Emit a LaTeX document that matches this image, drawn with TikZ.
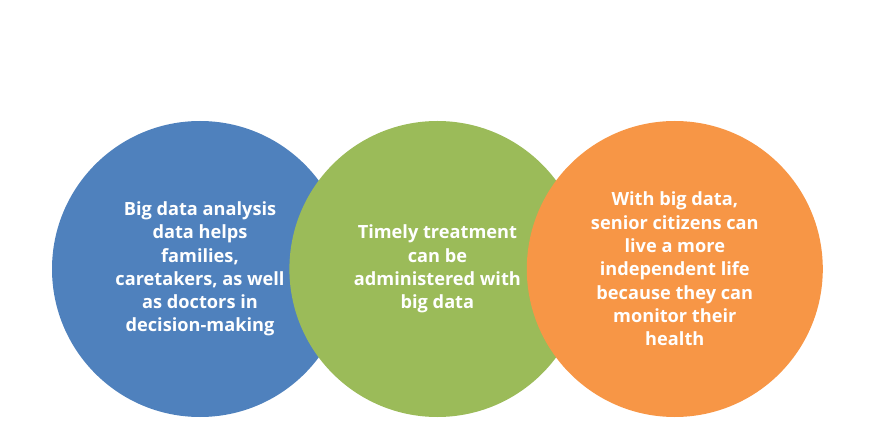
\documentclass[tikz,border=0pt]{standalone}
\usepackage{fontspec}
\setmainfont{Open Sans}
\usepackage{tikz}
\usetikzlibrary{positioning}

\definecolor{bblue}{HTML}{4F81BD}
\definecolor{bgreen}{HTML}{9BBB59}
\definecolor{borange}{HTML}{F79646}

\begin{document}
\begin{tikzpicture}[x = 1pt, y = -1pt,
    bubble/.style = {circle, minimum size = 296pt, inner sep = 0pt,
        text = white, align = center,
        font = \fontsize{18.2}{23.3}\selectfont\bfseries}]
\useasboundingbox (0,0) rectangle (886,430);
\node[bubble, fill = bblue](analysis) at (200,269) {Big data analysis\\data helps\\families,\\caretakers, as well\\as doctors in\\decision-making};
\node[bubble, fill = bgreen, right = -59pt of analysis](treatment) {Timely treatment\\can be\\administered with\\big data};
\node[bubble, fill = borange, right = -59pt of treatment](living) {With big data,\\senior citizens can\\live a more\\independent life\\because they can\\monitor their\\health};
\end{tikzpicture}
\end{document}
